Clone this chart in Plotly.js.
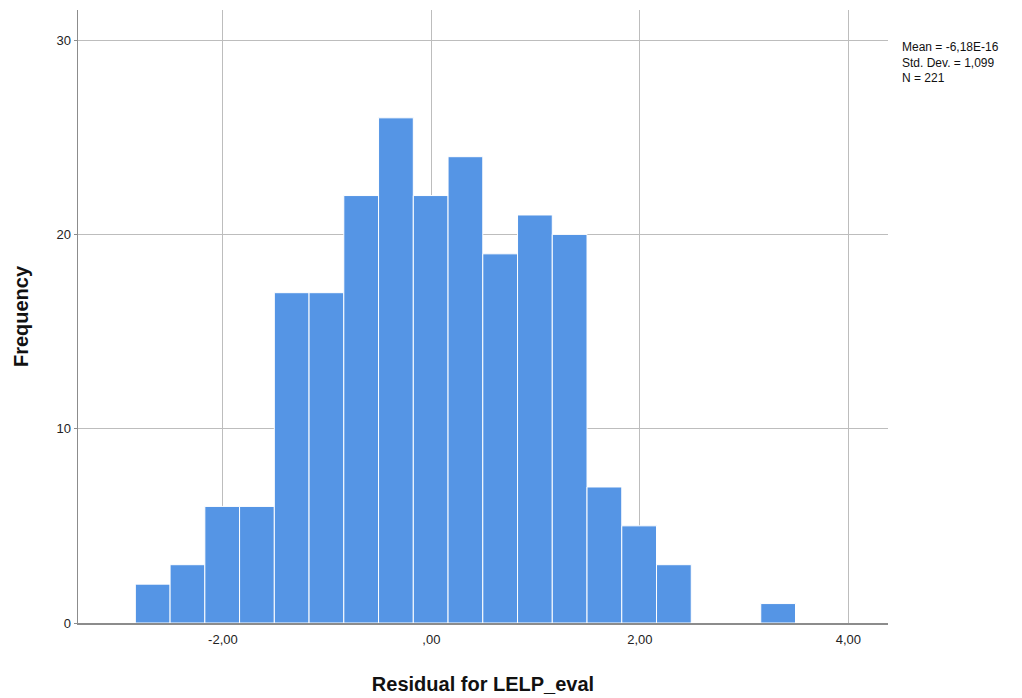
<!DOCTYPE html>
<html>
<head>
<meta charset="utf-8">
<script src="https://cdn.plot.ly/plotly-3.0.1.min.js"></script>
<style>html,body{margin:0;padding:0;background:#fff;}#chart{width:1022px;height:698px;}</style>
</head>
<body>
<div id="chart"></div>
<script>
// Histogram data (bins of equal width starting at binStart)
var binStart = -2.84;
var binWidth = 0.3333;
var counts = [2, 3, 6, 6, 17, 17, 22, 26, 22, 24, 19, 21, 20, 7, 5, 3, 0, 0, 1];
var xTickVals = [-2, 0, 2, 4];
var xTickText = ["-2,00", ",00", "2,00", "4,00"];
var yTickVals = [0, 10, 20, 30];
var statsText = ["Mean = -6,18E-16", "Std. Dev. = 1,099", "N = 221"];

var centers = counts.map(function (c, i) { return binStart + binWidth * (i + 0.5); });

var trace = {
  type: 'bar',
  x: centers,
  y: counts,
  width: binWidth,
  marker: { color: '#5595e5', line: { color: '#ffffff', width: 1 } },
  hoverinfo: 'x+y'
};

var layout = {
  width: 1022,
  height: 698,
  margin: { l: 78, r: 134, t: 10, b: 75 },
  paper_bgcolor: '#ffffff',
  plot_bgcolor: '#ffffff',
  font: { family: 'Liberation Sans, Arial, sans-serif', color: '#222', size: 13 },
  showlegend: false,
  bargap: 0,
  xaxis: {
    range: [-3.39, 4.38],
    tickvals: xTickVals,
    ticktext: xTickText,
    showgrid: true,
    gridcolor: '#bdbdbd',
    gridwidth: 1,
    zeroline: false,
    showline: true,
    linecolor: '#8c8c8c',
    linewidth: 1.5,
    ticks: '',
    ticklabelstandoff: 4,
    tickfont: { size: 13, color: '#222' },
    title: { text: '<b>Residual for LELP_eval</b>', font: { size: 20, color: '#111' }, standoff: 31 }
  },
  yaxis: {
    range: [0, 31.55],
    tickvals: yTickVals,
    showgrid: true,
    gridcolor: '#bdbdbd',
    gridwidth: 1,
    zeroline: false,
    showline: true,
    linecolor: '#8c8c8c',
    linewidth: 1.5,
    ticks: 'outside',
    ticklen: 3,
    tickcolor: '#8c8c8c',
    tickfont: { size: 13, color: '#222' },
    title: { text: '<b>Frequency</b>', font: { size: 20, color: '#111' }, standoff: 22 }
  },
  annotations: [{
    xref: 'paper', yref: 'paper',
    x: 1.015, y: 0.955,
    xanchor: 'left', yanchor: 'top',
    align: 'left',
    showarrow: false,
    text: statsText.join('<br>'),
    font: { size: 12, color: '#111' }
  }]
};

Plotly.newPlot('chart', [trace], layout, { displayModeBar: false, staticPlot: true });
</script>
</body>
</html>
